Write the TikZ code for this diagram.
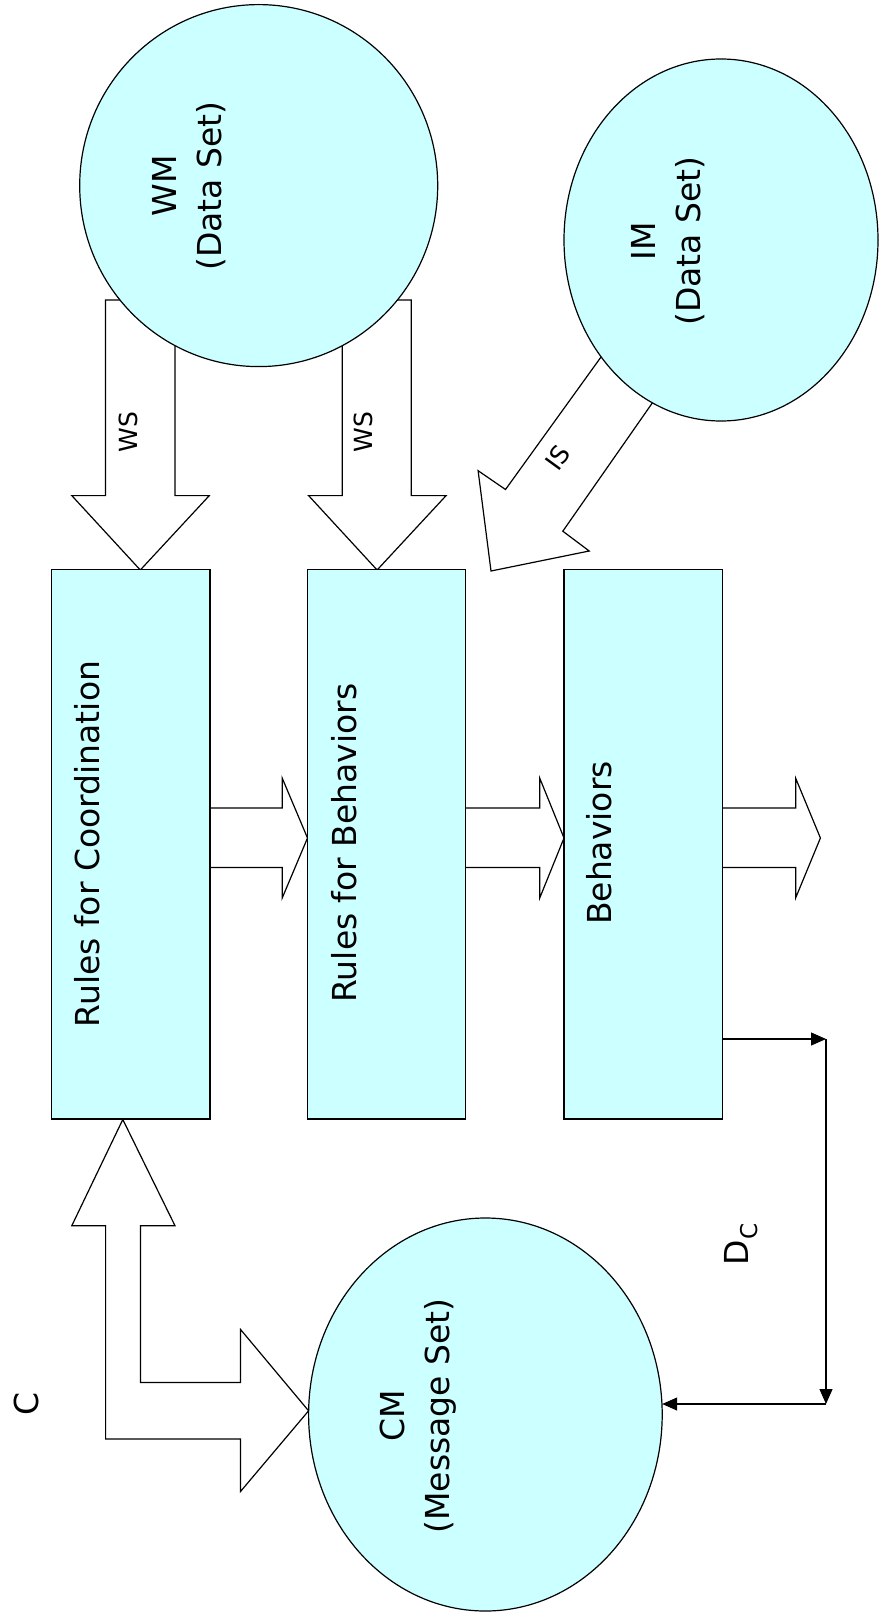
\documentclass[tikz,border=0pt]{standalone}
\usepackage{fontspec}
\setmainfont{DejaVu Sans}
\usetikzlibrary{shapes.geometric,arrows.meta}
\definecolor{boxcyan}{HTML}{CCFFFF}
\begin{document}
\begin{tikzpicture}[x=1pt,y=-1pt,
  every node/.style={inner sep=0pt, outer sep=0pt},
  ln/.style={line width=1.2pt, line join=miter},
  cyanfill/.style={ln, draw=black, fill=boxcyan},
  blockarrow/.style={ln, draw=black, fill=white},
  bigtxt/.style={font=\fontsize{33}{45}\selectfont, rotate=90, align=center},
  smalltxt/.style={font=\fontsize{25}{28}\selectfont},
  conn/.style={ln, -{Triangle[length=15pt,width=13pt]}}
]
\useasboundingbox (0,0) rectangle (880,1621);

% block arrows (drawn first, shapes cover their tails)
% WS left
\filldraw[blockarrow] (105.5,300) -- (105.5,495.6) -- (71.8,495.6) -- (140.3,570) -- (209.3,495.6) -- (175,495.6) -- (175,300) -- cycle;
% WS right
\filldraw[blockarrow] (342.3,300) -- (342.3,495.6) -- (308.6,495.6) -- (377.1,570) -- (446.1,495.6) -- (411.3,495.6) -- (411.3,300) -- cycle;
% IS
\filldraw[blockarrow] (623.8,325.4) -- (505.5,489.5) -- (478.1,470.7) -- (491,571) -- (589.2,551) -- (562.8,531.2) -- (674.4,371.3) -- cycle;
% C (bent double arrow)
\filldraw[blockarrow] (122.8,1119.5) -- (175,1225.7) -- (140.5,1225.7) -- (140.5,1382.5) -- (240.5,1382.5) -- (240.5,1329.4) -- (308.6,1410.8) -- (240.5,1491.5) -- (240.5,1439) -- (105.6,1439) -- (105.6,1225.7) -- (71.8,1225.7) -- cycle;
% right block arrows between rectangles
\filldraw[blockarrow] (180,807.9) -- (282.3,807.9) -- (282.3,778.3) -- (307.5,838) -- (282.3,897.8) -- (282.3,867.4) -- (180,867.4);
\filldraw[blockarrow] (436,807.9) -- (539.8,807.9) -- (539.8,778.3) -- (564,838) -- (539.8,897.8) -- (539.8,867.4) -- (436,867.4);
\filldraw[blockarrow] (692,807.9) -- (795.7,807.9) -- (795.7,778.3) -- (820.4,838) -- (795.7,897.8) -- (795.7,867.4) -- (692,867.4);

% ellipses
\node[cyanfill, ellipse, minimum width=358pt, minimum height=362pt] (wm) at (258.7,185.6) {};
\node[cyanfill, ellipse, minimum width=314pt, minimum height=362pt] (im) at (721,240) {};
\node[cyanfill, ellipse, minimum width=353.6pt, minimum height=393pt] (cm) at (485.4,1414.5) {};

% rectangles
\node[cyanfill, rectangle, minimum width=158.3pt, minimum height=549.4pt] (r1) at (130.75,844.3) {};
\node[cyanfill, rectangle, minimum width=158.3pt, minimum height=549.4pt] (r2) at (386.65,844.3) {};
\node[cyanfill, rectangle, minimum width=158.3pt, minimum height=549.4pt] (r3) at (643.1,844.3) {};

% texts
\node[bigtxt] (wmt) at (189,186) {WM\\(Data Set)};
\node[bigtxt] (imt) at (668.4,241) {IM\\(Data Set)};
\node[bigtxt] (cmt) at (418,1416) {CM\\(Message Set)};
\node[bigtxt] (r1t) at (87.3,844) {Rules for Coordination};
\node[bigtxt] (r2t) at (343.8,843) {Rules for Behaviors};
\node[bigtxt] (r3t) at (599,843) {Behaviors};
\node[smalltxt, rotate=90] (ws1) at (128.3,432) {WS};
\node[smalltxt, rotate=90] (ws2) at (363.4,432) {WS};
\node[smalltxt, rotate=54] (ist) at (557.5,458) {IS};
\node[bigtxt] (ct) at (26.7,1404) {C};
\node[bigtxt] (dct) at (741,1244) {D\textsubscript{C}};

% Dc connector
\coordinate (d1) at (826,1039);
\coordinate (d2) at (826,1404);
\draw[conn] (r3.east |- d1) -- (d1);
\draw[conn] (d1) -- (d2);
\draw[conn] (d2) -- (cm.east |- d2);
\end{tikzpicture}
\end{document}
